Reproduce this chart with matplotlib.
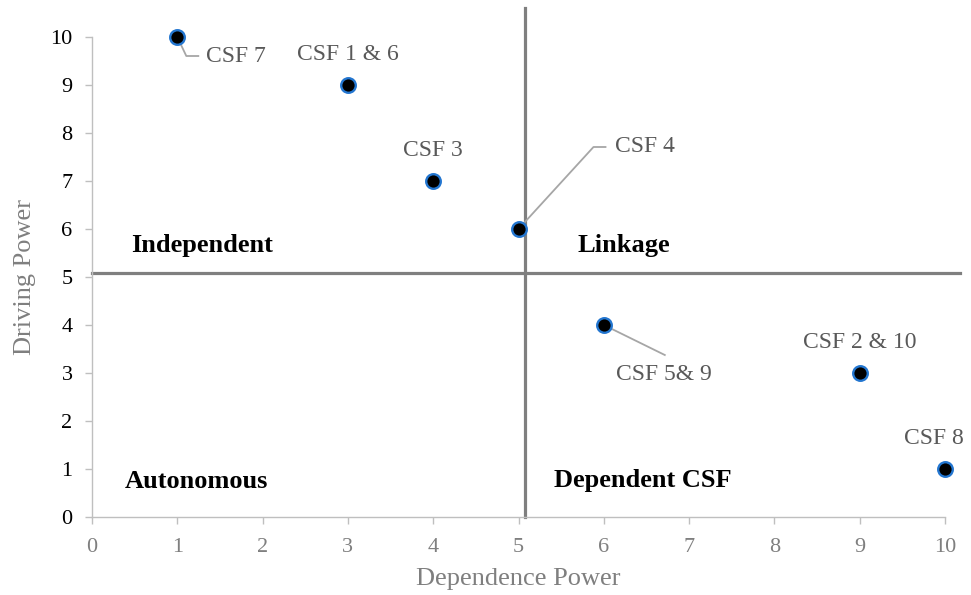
import matplotlib.pyplot as plt
plt.switch_backend("agg")

plt.rcParams["font.family"] = ["Liberation Serif", "DejaVu Serif"]

# CSF positions: dependence power (x) vs driving power (y)
dependence = [1, 3, 4, 5, 6, 9, 10]
driving = [10, 9, 7, 6, 4, 3, 1]
labels = ["CSF 7", "CSF 1 & 6", "CSF 3", "CSF 4", "CSF 5& 9", "CSF 2 & 10", "CSF 8"]

# label placement in image pixels relative to the point (y down), leader path
label_offsets = [(29, 19), (0, -31), (0, -31), (96, -82), (60, 49), (0, -31), (-11, -30)]
label_ha = ["left", "center", "center", "left", "center", "center", "center"]
leaders = {
    "CSF 7": [(0, 0), (9, 19), (21, 19)],
    "CSF 4": [(0, 0), (75, -82), (87, -82)],
    "CSF 5& 9": [(0, 0), (61, 30)],
}

quadrants = ["Independent", "Linkage", "Autonomous", "Dependent CSF"]
quad_x = [1.29, 6.24, 1.23, 6.46]
quad_y = [5.65, 5.65, 0.73, 0.75]

SPLIT_X = 5.08
SPLIT_Y = 5.08
VLINE_TOP = 10.6
HLINE_RIGHT = 10.17


def main():
    fig = plt.figure(figsize=(9.71, 5.95), dpi=100)
    ax = fig.add_axes([92 / 971, 78 / 595, 853 / 971, 480 / 595])
    ax.set_xlim(0, 10)
    ax.set_ylim(0, 10)
    ax.set_xticks(range(0, 11))
    ax.set_yticks(range(0, 11))

    for side in ["top", "right"]:
        ax.spines[side].set_visible(False)
    for side in ["left", "bottom"]:
        ax.spines[side].set_color("#bfbfbf")
        ax.spines[side].set_linewidth(1.0)
    ax.tick_params(axis="both", direction="out", length=5, width=1,
                   color="#bfbfbf", labelsize=16)
    ax.tick_params(axis="x", labelcolor="#7f7f7f", pad=10)
    ax.tick_params(axis="y", labelcolor="black", pad=9)

    ax.set_xlabel("Dependence Power", fontsize=19, color="#7f7f7f", labelpad=8)
    ax.set_ylabel("Driving Power", fontsize=19, color="#7f7f7f", labelpad=10)

    # quadrant dividers
    ax.plot([SPLIT_X, SPLIT_X], [0, VLINE_TOP], color="#7f7f7f", lw=2.3,
            clip_on=False, zorder=2)
    ax.plot([0, HLINE_RIGHT], [SPLIT_Y, SPLIT_Y], color="#7f7f7f", lw=2.3,
            clip_on=False, zorder=2)

    for name, qx, qy in zip(quadrants, quad_x, quad_y):
        ax.text(qx, qy, name, fontsize=19, fontweight="bold", color="black",
                ha="center", va="center")

    # leader lines, built from pixel offsets around each point
    to_data = ax.transData.inverted()
    for x, y, lab in zip(dependence, driving, labels):
        if lab not in leaders:
            continue
        px, py = ax.transData.transform((x, y))
        path = [to_data.transform((px + dx, py - dy)) for dx, dy in leaders[lab]]
        ax.plot([p[0] for p in path], [p[1] for p in path], color="#a6a6a6",
                lw=1.3, clip_on=False, zorder=3)

    ax.plot(dependence, driving, linestyle="none", marker="o", markersize=10.5,
            markerfacecolor="black", markeredgecolor="#2376d0",
            markeredgewidth=1.7, clip_on=False, zorder=4)

    for x, y, lab, (dx, dy), ha in zip(dependence, driving, labels,
                                       label_offsets, label_ha):
        ax.annotate(lab, (x, y), xytext=(dx, -dy), textcoords="offset pixels",
                    fontsize=17, color="#595959", ha=ha, va="center")

    fig.savefig("out.png", dpi=100)
    plt.close(fig)


if __name__ == "__main__":
    main()
